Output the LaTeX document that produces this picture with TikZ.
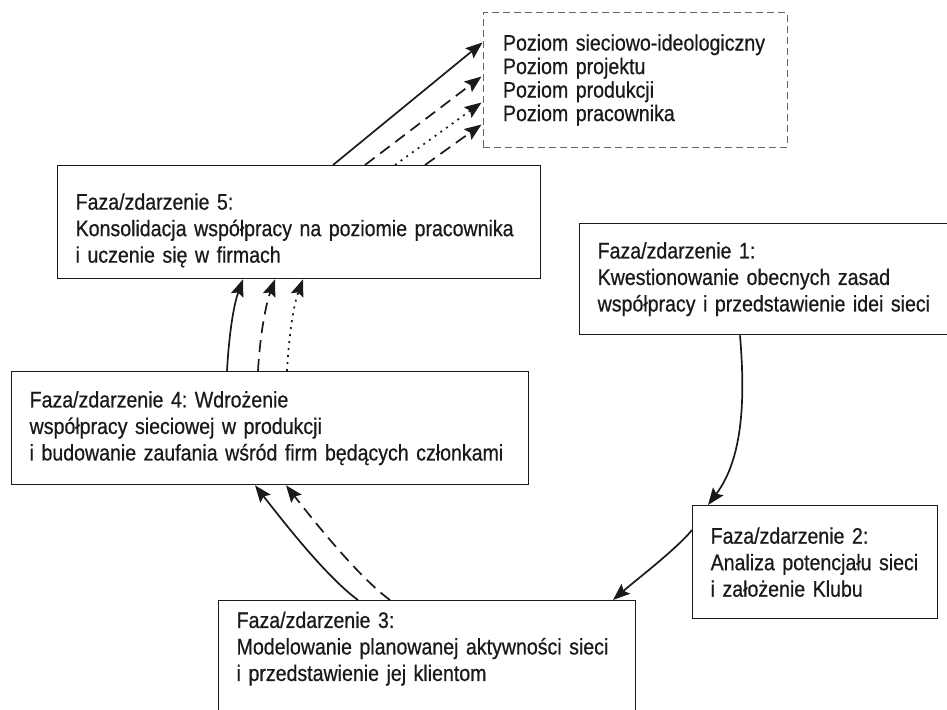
\documentclass[tikz,border=0pt]{standalone}
\usepackage{fontspec}
\setmainfont{Liberation Sans}[FakeStretch=0.87,FakeBold=0.6]
\usetikzlibrary{arrows.meta,calc}
\definecolor{ink}{HTML}{1A1A1A}
\definecolor{dgray}{HTML}{666666}
\frenchspacing
\begin{document}
\begin{tikzpicture}[x=1pt,y=1pt,
  phasebox/.style={draw=ink, line width=1.3pt, fill=white, text=ink,
    inner xsep=18pt, inner ysep=0pt, align=left,
    font=\fontsize{22.5}{26.5}\selectfont\frenchspacing, anchor=center},
  levelbox/.style={draw=dgray, line width=1pt, dash pattern=on 7pt off 4pt,
    text=ink, inner xsep=20pt, inner ysep=0pt, align=left,
    font=\fontsize{22.5}{23.5}\selectfont\frenchspacing, anchor=center},
  arr/.style={draw=ink, line width=1.7pt,
    -{Stealth[length=17pt,width=13pt,inset=3pt]}},
  dasharr/.style={arr, dash pattern=on 12pt off 7pt},
  dotarr/.style={arr, dash pattern=on 2pt off 5pt}]
\clip (0,0) rectangle (947,-709);
\fill[white] (0,0) rectangle (947,-709);

% level box
\node[levelbox, text width=264pt, minimum height=134pt] (d) at (635,-80)
  {Poziom sieciowo-ideologiczny\\Poziom projektu\\Poziom produkcji\\Poziom pracownika};

% phase boxes
\node[phasebox, text width=447pt, inner ysep=0pt, text height=44pt, text depth=69pt, anchor=north west] (b5) at (57,-165)
  {Faza/zdarzenie 5:\\Konsolidacja współpracy na poziomie pracownika\\i uczenie się w firmach};
\node[phasebox, text width=350pt, minimum height=111pt, anchor=north west] (b1) at (579,-223)
  {Faza/zdarzenie 1:\\Kwestionowanie obecnych zasad\\współpracy i przedstawienie idei sieci};
\node[phasebox, text width=481pt, minimum height=113pt, anchor=north west] (b4) at (11,-371)
  {Faza/zdarzenie 4: Wdrożenie\\współpracy sieciowej w produkcji\\i budowanie zaufania wśród firm będących członkami};
\node[phasebox, text width=209pt, minimum height=113pt, anchor=north west] (b2) at (692,-505)
  {Faza/zdarzenie 2:\\Analiza potencjału sieci\\i założenie Klubu};
\node[phasebox, text width=381pt, inner ysep=11pt, text depth=82pt, anchor=north west] (b3) at (218,-600)
  {Faza/zdarzenie 3:\\Modelowanie planowanej aktywności sieci\\i przedstawienie jej klientom};

% 1 -> 2
\draw[arr] ($(b1.south west)+(161,0)$) .. controls +(5,-60) and +(36,48) .. ($(b2.north west)+(16,0)$);
% 2 -> 3
\draw[arr] ($(b2.north west)+(0,-25)$) .. controls +(-16,-19.5) and +(22.6,19.7) .. ($(b3.north west)+(395,0)$);
% 3 -> 4
\draw[arr] ($(b3.north west)+(140,0)$) .. controls +(-32.4,23.5) and +(24.6,-31.5) .. ($(b4.south west)+(244,0)$);
\draw[dasharr] ($(b3.north west)+(172,0)$) .. controls +(-32.4,23.5) and +(24.6,-31.5) .. ($(b4.south west)+(275,0)$);
% 4 -> 5
\draw[arr] ($(b4.north west)+(216,0)$) .. controls +(1.6,30) and +(-10.3,-28.2) .. ($(b5.south west)+(186,0)$);
\draw[dasharr] ($(b4.north west)+(247,0)$) .. controls +(1.6,30) and +(-10.3,-28.2) .. ($(b5.south west)+(218,0)$);
\draw[dotarr] ($(b4.north west)+(276,0)$) .. controls +(1.6,30) and +(-10.3,-28.2) .. ($(b5.south west)+(246,0)$);
% 5 -> levels
\draw[arr] ($(b5.north west)+(276,0)$) -- ($(d.north west)+(0,-30)$);
\draw[dasharr] ($(b5.north west)+(308,0)$) -- ($(d.north west)+(-1,-64)$);
\draw[dotarr] ($(b5.north west)+(338,0)$) -- ($(d.north west)+(-1,-90)$);
\draw[dasharr] ($(b5.north west)+(368,0)$) -- ($(d.north west)+(-1,-112)$);
\end{tikzpicture}
\end{document}
